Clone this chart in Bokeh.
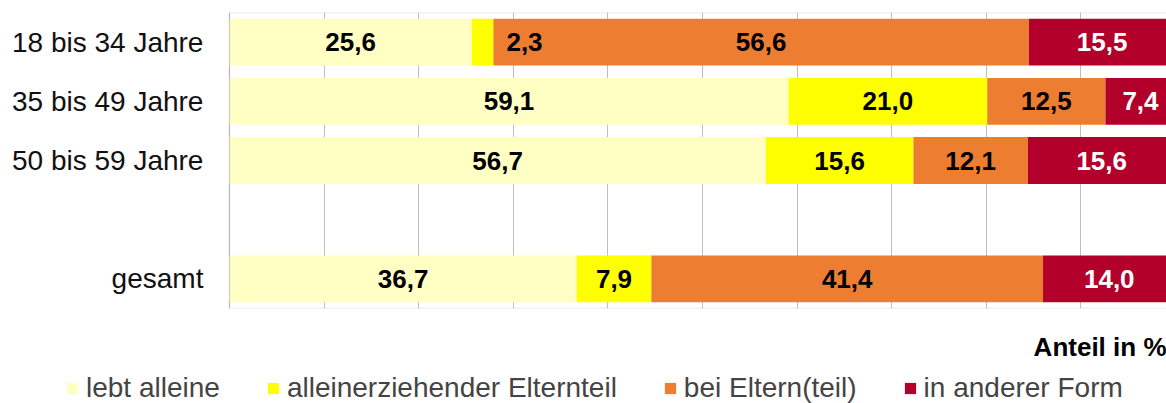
from bokeh.plotting import figure
from bokeh.layouts import column
from bokeh.models import (ColumnDataSource, FactorRange, Range1d, Legend, LegendItem,
                          SingleIntervalTicker, BoxAnnotation, Title)
from bokeh.embed import file_html
from bokeh.resources import INLINE
from bokeh.core.properties import value

# ---- data ----
categories = ["18 bis 34 Jahre", "35 bis 49 Jahre", "50 bis 59 Jahre", " ", "gesamt"]
lebt_alleine = [25.6, 59.1, 56.7, 0, 36.7]
alleinerziehend = [2.3, 21.0, 15.6, 0, 7.9]
bei_eltern = [56.6, 12.5, 12.1, 0, 41.4]
andere_form = [15.5, 7.4, 15.6, 0, 14.0]
series_names = ["lebt alleine", "alleinerziehender Elternteil", "bei Eltern(teil)", "in anderer Form"]
series_values = [lebt_alleine, alleinerziehend, bei_eltern, andere_form]
axis_title = "Anteil in %"
x_full = 100
colors = ["#FFFFC4", "#FFFF00", "#ED7D31", "#B3002B"]
label_colors = ["black", "black", "black", "white"]

FONT = "Liberation Sans"

xr = Range1d(-24.2, 99.05)
p = figure(width=1166, height=312, output_backend="svg", toolbar_location=None,
           y_range=FactorRange(factors=categories[::-1], range_padding=0),
           x_range=xr,
           min_border_left=0, min_border_right=0, min_border_top=12, min_border_bottom=4)
p.outline_line_color = None
p.background_fill_color = "white"
p.border_fill_color = "white"
p.xaxis.visible = False
p.yaxis.visible = False

# grid
p.xgrid.ticker = SingleIntervalTicker(interval=10)
p.xgrid.bounds = (0, x_full)
p.xgrid.grid_line_color = "#BFBFBF"
p.xgrid.grid_line_width = 1
p.ygrid.grid_line_color = None
p.grid.level = "underlay"

# bars
sources = []
renderers = []
left = [0.0] * len(categories)
lab_x, lab_y, lab_t, lab_c, lab_off = [], [], [], [], []
for si, (name, vals) in enumerate(zip(series_names, series_values)):
    right = [l + v for l, v in zip(left, vals)]
    src = ColumnDataSource(dict(y=categories, left=left, right=right))
    sources.append(src)
    r = p.hbar(y="y", left="left", right="right", height=0.79, source=src,
               fill_color=colors[si], line_color=None)
    renderers.append(r)
    for ci, (c, v) in enumerate(zip(categories, vals)):
        if v > 0:
            lab_x.append(left[ci] + v / 2)
            lab_y.append(c)
            lab_t.append(f"{v:.1f}".replace(".", ","))
            lab_c.append(label_colors[si])
            lab_off.append(42 if v < 3 else 0)
    left = right

lsrc = ColumnDataSource(dict(x=lab_x, y=lab_y, t=lab_t, c=lab_c, off=lab_off))
p.text(x="x", y="y", text="t", source=lsrc, text_color="c", x_offset="off",
       text_align="center", text_baseline="middle", text_font=value(FONT),
       text_font_style="bold", text_font_size="26px")

# category labels (left of the value axis origin)
csrc = ColumnDataSource(dict(y=categories, x=[0] * len(categories), t=categories))
p.text(x="x", y="y", text="t", source=csrc, x_offset=-26, text_color="#111111",
       text_align="right", text_baseline="middle", text_font=value(FONT),
       text_font_size="28px")

# plot-area border (left/top/bottom; right edge lies beyond the window)
p.add_layout(BoxAnnotation(left=0, right=x_full, fill_alpha=0, line_color="#A6A6A6",
                           line_width=1.5, level="overlay"))

# ---- lower strip: axis title + legend ----
q = figure(width=1166, height=91, output_backend="svg", toolbar_location=None,
           x_range=xr, y_range=FactorRange(factors=categories[::-1], range_padding=0),
           min_border_left=0, min_border_right=0, min_border_top=49, min_border_bottom=0)
q.axis.visible = False
q.grid.visible = False
q.outline_line_color = None
q.background_fill_color = "white"
q.border_fill_color = "white"
q.add_layout(Title(text=axis_title, align="right", text_font=FONT, text_font_style="bold",
                   text_font_size="26px", text_color="black", standoff=0, offset=0), "above")

leg_renderers = []
for si, src in enumerate(sources):
    leg_renderers.append(q.hbar(y="y", left="left", right="right", height=0, source=src,
                                fill_color=colors[si], line_color=None))
items = [LegendItem(label=n, renderers=[r]) for n, r in zip(series_names, leg_renderers)]
legend = Legend(items=items, orientation="horizontal", location=(65, -1),
                label_text_font=FONT, label_text_font_size="28px",
                glyph_width=14, glyph_height=14, label_standoff=7, spacing=46,
                padding=0, margin=0, border_line_color=None, background_fill_alpha=0)
q.add_layout(legend, "center")

layout = column(p, q, spacing=0)
open("out.html", "w").write(file_html(layout, INLINE))
